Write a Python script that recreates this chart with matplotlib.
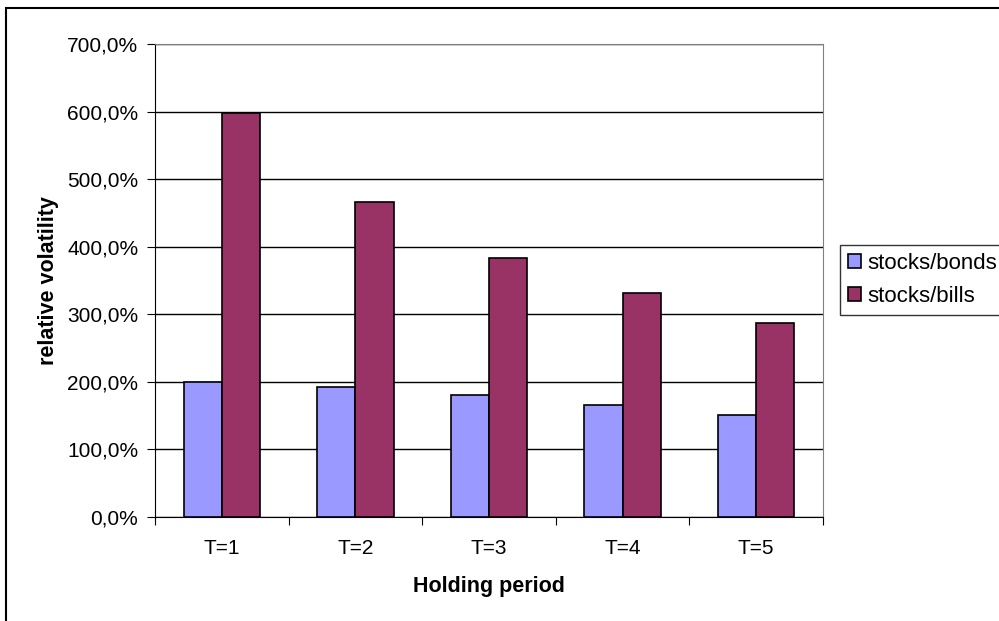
import numpy as np
import matplotlib
matplotlib.use("Agg")
import matplotlib.pyplot as plt
from matplotlib.patches import Rectangle
from matplotlib.ticker import FuncFormatter

# datos
categorias = ['T=1', 'T=2', 'T=3', 'T=4', 'T=5']
stocks_bonds = [200, 192, 180, 166, 151]
stocks_bills = [598, 466, 384, 331, 287]
series = ['stocks/bonds', 'stocks/bills']

plt.rcParams['font.family'] = ['Liberation Sans', 'DejaVu Sans']

fig = plt.figure(figsize=(9.99, 6.21), dpi=100)
ax = fig.add_axes([155 / 999, 1 - 517 / 621, 668 / 999, 473 / 621])

# borde exterior del grafico (solo se ve arriba y a la izquierda)
fig.patches.append(Rectangle((6 / 999, -0.1), 1.2, 1 - 8 / 621 + 0.1,
                             transform=fig.transFigure, fill=False,
                             edgecolor='black', linewidth=1.5))

x = np.arange(len(categorias))
ancho = 1 / 3.5
ax.bar(x - ancho / 2, stocks_bonds, ancho, color='#9999FF', edgecolor='black',
       linewidth=1.2, label=series[0], zorder=3)
ax.bar(x + ancho / 2, stocks_bills, ancho, color='#993366', edgecolor='black',
       linewidth=1.2, label=series[1], zorder=3)

ax.set_xlim(-0.5, len(categorias) - 0.5)
ax.set_ylim(0, 700)
ax.set_yticks(range(0, 701, 100))
ax.yaxis.set_major_formatter(FuncFormatter(lambda v, p: f'{v:.1f}%'.replace('.', ',')))
ax.grid(axis='y', color='black', linewidth=1, zorder=0)

# ticks del eje x entre categorias
ax.set_xticks(np.arange(-0.5, len(categorias), 1))
ax.set_xticklabels([])
ax.set_xticks(x, minor=True)
ax.set_xticklabels(categorias, minor=True)
ax.tick_params(axis='x', which='major', direction='out', length=6, color='black')
ax.tick_params(axis='x', which='minor', length=0, pad=16, labelsize=15)
ax.tick_params(axis='y', direction='out', length=6, labelsize=15, pad=6)

for lado in ['top', 'right']:
    ax.spines[lado].set_color('#808080')
ax.spines['left'].set_color('black')
ax.spines['bottom'].set_color('black')

ax.set_xlabel('Holding period', fontweight='bold', fontsize=15.5, labelpad=13)
ax.set_ylabel('relative volatility', fontweight='bold', fontsize=15.5, labelpad=6)

leg = fig.legend(loc='upper left', bbox_to_anchor=(840 / 999, 1 - 245 / 621),
                 fontsize=16, frameon=True, fancybox=False, edgecolor='black',
                 handlelength=0.6, handleheight=0.6, handletextpad=0.3,
                 borderpad=0.35, labelspacing=0.55, borderaxespad=0)
leg.get_frame().set_linewidth(1.0)

fig.savefig('out.png', dpi=100)
